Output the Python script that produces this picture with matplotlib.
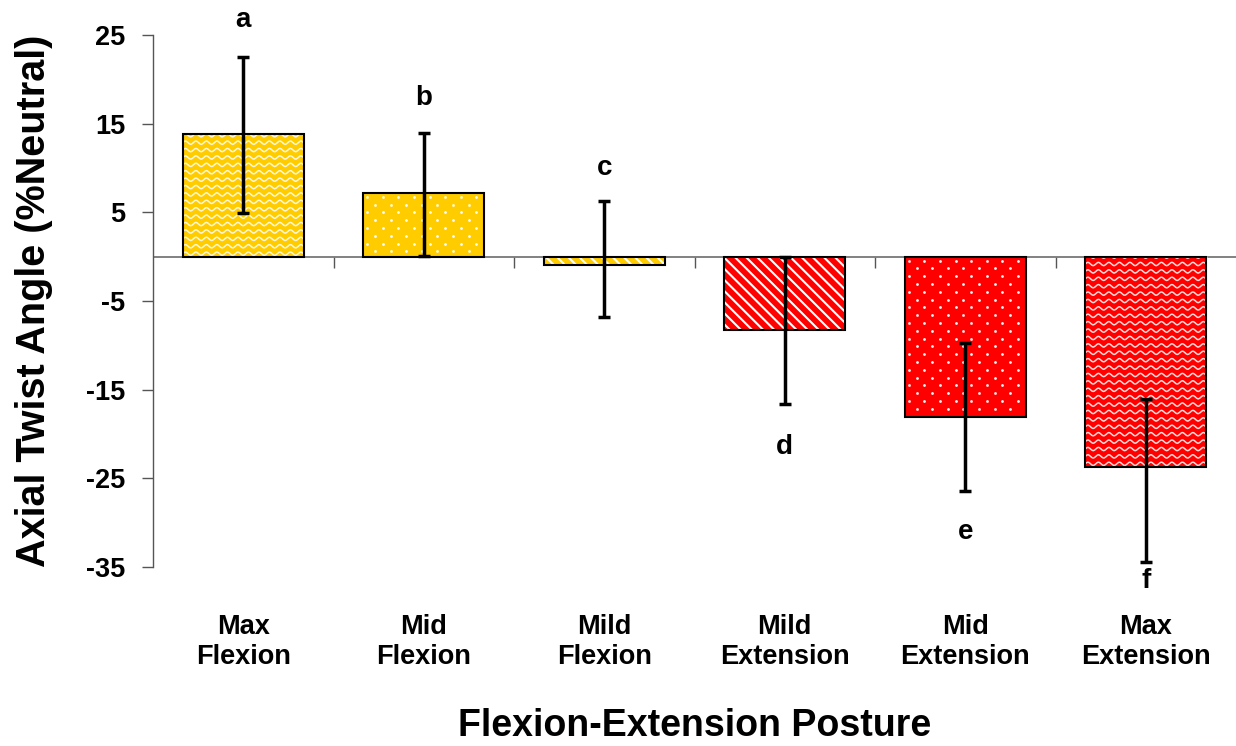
import numpy as np
import matplotlib
matplotlib.use("Agg")
import matplotlib.pyplot as plt
from matplotlib.lines import Line2D
from matplotlib.transforms import IdentityTransform

plt.rcParams['font.family'] = ['Liberation Sans', 'DejaVu Sans']
plt.rcParams['font.weight'] = 'bold'
plt.rcParams['hatch.linewidth'] = 1.5
plt.rcParams['axes.unicode_minus'] = False

# data
postures = ["Max\nFlexion", "Mid\nFlexion", "Mild\nFlexion",
            "Mild\nExtension", "Mid\nExtension", "Max\nExtension"]
means = [13.8, 7.2, -0.9, -8.3, -18.1, -23.7]
err_up = [8.7, 6.8, 7.2, 8.3, 8.35, 7.6]
err_down = [8.9, 7.1, 5.85, 8.3, 8.3, 10.7]
letters = ["a", "b", "c", "d", "e", "f"]
letter_y = [26.7, 17.9, 10.0, -21.5, -31.1, -36.6]

colors = ["#FFCC00", "#FFCC00", "#FFCC00", "#FF0000", "#FF0000", "#FF0000"]
patterns = ["wave", "dots", "\\\\\\", "\\\\\\", "dots", "wave"]

fig = plt.figure(figsize=(12.36, 7.46), dpi=100)
ax = fig.add_axes([153/1236, 1 - 567/746, 1 - 153/1236, 532/746])

x = np.arange(len(postures))
bars = ax.bar(x, means, width=0.67, color=colors, edgecolor='white', linewidth=0)
for b, p in zip(bars, patterns):
    if p.startswith("\\"):
        b.set_hatch(p)
ax.bar(x, means, width=0.67, fill=False, edgecolor='black', linewidth=1.5, zorder=3)

ax.errorbar(x, means, yerr=[err_down, err_up], fmt='none', ecolor='black',
            elinewidth=2.5, capsize=4.5, capthick=2.5, zorder=4)

for xi, t, ly in zip(x, letters, letter_y):
    ax.text(xi, ly, t, ha='center', va='center', fontsize=20, fontweight='bold',
            clip_on=False)

ax.set_xlim(-0.5, 5.5)
ax.set_ylim(-35, 25)
ax.set_yticks(np.arange(-35, 26, 10))
ax.tick_params(axis='y', direction='out', length=8, width=1, color='#555555',
               labelsize=19.5, pad=12)
for lab in ax.get_yticklabels():
    lab.set_fontweight('bold')

ax.set_xticks(x)
ax.set_xticklabels(postures, fontsize=19.5, fontweight='bold')
ax.tick_params(axis='x', length=0, pad=34)

for s in ['top', 'right', 'bottom']:
    ax.spines[s].set_visible(False)
ax.spines['left'].set_color('#555555')
ax.spines['left'].set_linewidth(1)

# zero line with category-boundary ticks
ax.axhline(0, color='#777777', linewidth=1.3, zorder=0.5)
sec = ax.secondary_xaxis(35/60)
sec.set_xticks(np.arange(0.5, 5.0, 1.0))
sec.tick_params(axis='x', direction='out', length=8, width=1, color='#555555',
                labelbottom=False, labeltop=False, bottom=True, top=False)
for s in sec.spines.values():
    s.set_visible(False)

ax.set_ylabel("Axial Twist Angle (%Neutral)", fontsize=28.5, fontweight='bold', labelpad=24)
ax.set_xlabel("Flexion-Extension Posture", fontsize=27, fontweight='bold', labelpad=27)

# wave and dot patterns, drawn in pixels and clipped to the bar
fig.canvas.draw()
for b, p in zip(bars, patterns):
    bb = b.get_window_extent()
    if p == "wave":
        xs = np.arange(bb.x0, bb.x1 + 1, 0.5)
        for y0 in np.arange(bb.y0 + 3, bb.y1 + 4, 7.4):
            ys = y0 + 1.6 * np.sin(2 * np.pi * (xs - bb.x0) / 10.5)
            ln = Line2D(xs, ys, color='white', alpha=0.85, linewidth=1.1,
                        transform=IdentityTransform(), zorder=1.5)
            ln.set_clip_path(b)
            ax.add_artist(ln)
    elif p == "dots":
        px, py = [], []
        for i, y0 in enumerate(np.arange(bb.y1 - 4, bb.y0, -7.8)):
            off = 0 if i % 2 == 0 else 7.8
            for x0 in np.arange(bb.x0 + 4 + off, bb.x1, 15.6):
                px.append(x0)
                py.append(y0)
        ln = Line2D(px, py, linestyle='none', marker='o', markersize=2.0,
                    markeredgewidth=0, markerfacecolor='white', alpha=0.95,
                    transform=IdentityTransform(), zorder=1.5)
        ln.set_clip_path(b)
        ax.add_artist(ln)

fig.savefig("out.png", dpi=100)
